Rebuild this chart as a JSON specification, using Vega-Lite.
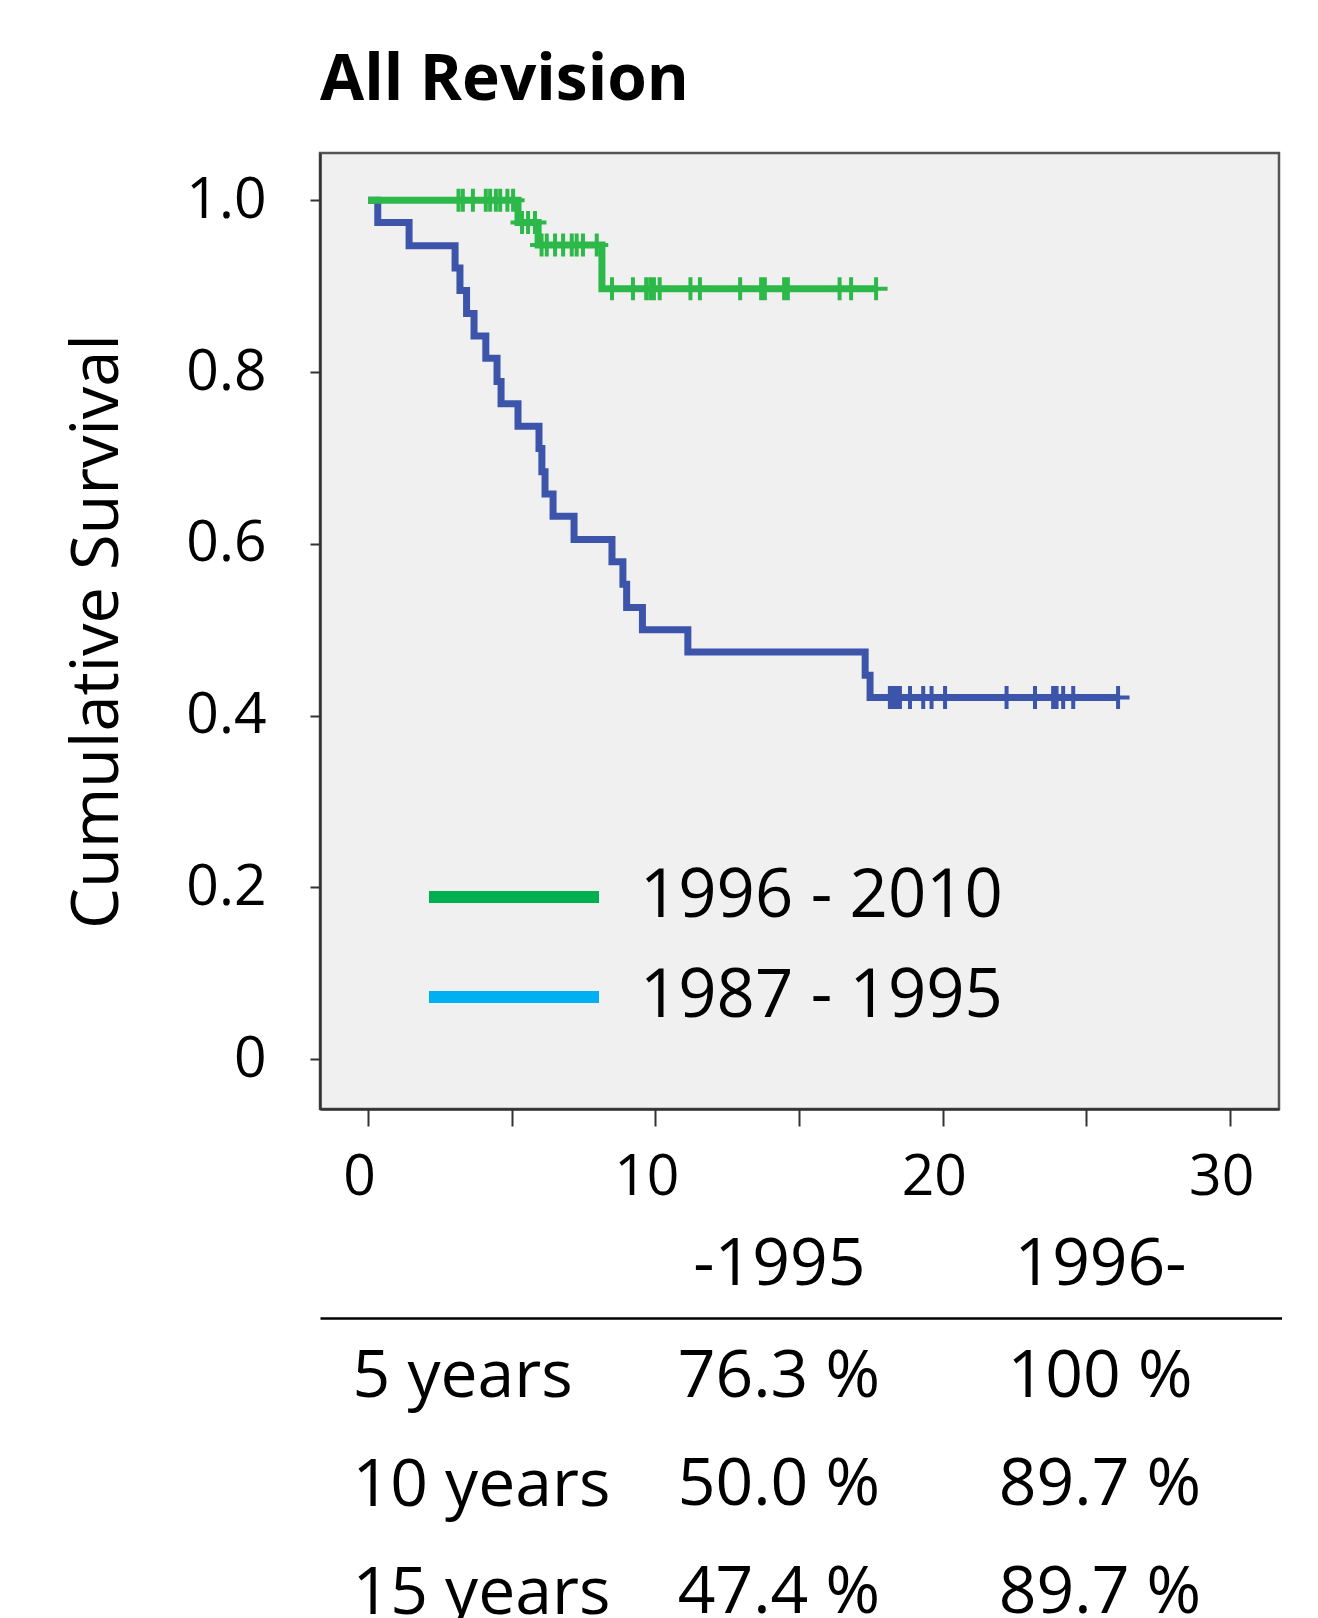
{
  "$schema": "https://vega.github.io/schema/vega-lite/v6.json",
  "background": "white",
  "padding": {"left": 64, "top": 47, "right": 0, "bottom": 0},
  "bounds": "flush",
  "spacing": 209,
  "config": {"font": "Open Sans", "view": {"stroke": null}},
  "datasets": {
    "km": [
      {"group": "1987 - 1995", "t": 0, "s": 1},
      {"group": "1987 - 1995", "t": 0.34, "s": 0.974},
      {"group": "1987 - 1995", "t": 1.43, "s": 0.947},
      {"group": "1987 - 1995", "t": 3.03, "s": 0.921},
      {"group": "1987 - 1995", "t": 3.2, "s": 0.895},
      {"group": "1987 - 1995", "t": 3.43, "s": 0.868},
      {"group": "1987 - 1995", "t": 3.69, "s": 0.842},
      {"group": "1987 - 1995", "t": 4.1, "s": 0.816},
      {"group": "1987 - 1995", "t": 4.49, "s": 0.789},
      {"group": "1987 - 1995", "t": 4.63, "s": 0.763},
      {"group": "1987 - 1995", "t": 5.22, "s": 0.737},
      {"group": "1987 - 1995", "t": 5.95, "s": 0.711},
      {"group": "1987 - 1995", "t": 6.05, "s": 0.684},
      {"group": "1987 - 1995", "t": 6.16, "s": 0.658},
      {"group": "1987 - 1995", "t": 6.44, "s": 0.632},
      {"group": "1987 - 1995", "t": 7.17, "s": 0.605},
      {"group": "1987 - 1995", "t": 8.49, "s": 0.579},
      {"group": "1987 - 1995", "t": 8.87, "s": 0.553},
      {"group": "1987 - 1995", "t": 9.0, "s": 0.526},
      {"group": "1987 - 1995", "t": 9.55, "s": 0.5},
      {"group": "1987 - 1995", "t": 11.13, "s": 0.474},
      {"group": "1987 - 1995", "t": 17.3, "s": 0.447},
      {"group": "1987 - 1995", "t": 17.47, "s": 0.421},
      {"group": "1987 - 1995", "t": 26.1, "s": 0.421},
      {"group": "1996 - 2010", "t": 0, "s": 1},
      {"group": "1996 - 2010", "t": 5.22, "s": 0.974},
      {"group": "1996 - 2010", "t": 5.92, "s": 0.948},
      {"group": "1996 - 2010", "t": 8.14, "s": 0.897},
      {"group": "1996 - 2010", "t": 17.68, "s": 0.897}
    ],
    "censor": [
      {"group": "1987 - 1995", "t": 18.16, "s": 0.421},
      {"group": "1987 - 1995", "t": 18.25, "s": 0.421},
      {"group": "1987 - 1995", "t": 18.33, "s": 0.421},
      {"group": "1987 - 1995", "t": 18.42, "s": 0.421},
      {"group": "1987 - 1995", "t": 18.51, "s": 0.421},
      {"group": "1987 - 1995", "t": 18.86, "s": 0.421},
      {"group": "1987 - 1995", "t": 19.32, "s": 0.421},
      {"group": "1987 - 1995", "t": 19.61, "s": 0.421},
      {"group": "1987 - 1995", "t": 20.08, "s": 0.421},
      {"group": "1987 - 1995", "t": 22.22, "s": 0.421},
      {"group": "1987 - 1995", "t": 23.21, "s": 0.421},
      {"group": "1987 - 1995", "t": 23.84, "s": 0.421},
      {"group": "1987 - 1995", "t": 23.96, "s": 0.421},
      {"group": "1987 - 1995", "t": 24.19, "s": 0.421},
      {"group": "1987 - 1995", "t": 24.54, "s": 0.421},
      {"group": "1987 - 1995", "t": 26.1, "s": 0.421},
      {"group": "1996 - 2010", "t": 3.15, "s": 1},
      {"group": "1996 - 2010", "t": 3.3, "s": 1},
      {"group": "1996 - 2010", "t": 3.65, "s": 1},
      {"group": "1996 - 2010", "t": 4.1, "s": 1},
      {"group": "1996 - 2010", "t": 4.25, "s": 1},
      {"group": "1996 - 2010", "t": 4.45, "s": 1},
      {"group": "1996 - 2010", "t": 4.6, "s": 1},
      {"group": "1996 - 2010", "t": 4.85, "s": 1},
      {"group": "1996 - 2010", "t": 5.05, "s": 1},
      {"group": "1996 - 2010", "t": 5.36, "s": 0.974},
      {"group": "1996 - 2010", "t": 5.57, "s": 0.974},
      {"group": "1996 - 2010", "t": 5.81, "s": 0.974},
      {"group": "1996 - 2010", "t": 6.04, "s": 0.948},
      {"group": "1996 - 2010", "t": 6.22, "s": 0.948},
      {"group": "1996 - 2010", "t": 6.51, "s": 0.948},
      {"group": "1996 - 2010", "t": 6.79, "s": 0.948},
      {"group": "1996 - 2010", "t": 7.09, "s": 0.948},
      {"group": "1996 - 2010", "t": 7.26, "s": 0.948},
      {"group": "1996 - 2010", "t": 7.48, "s": 0.948},
      {"group": "1996 - 2010", "t": 7.96, "s": 0.948},
      {"group": "1996 - 2010", "t": 8.49, "s": 0.897},
      {"group": "1996 - 2010", "t": 9.22, "s": 0.897},
      {"group": "1996 - 2010", "t": 9.68, "s": 0.897},
      {"group": "1996 - 2010", "t": 9.82, "s": 0.897},
      {"group": "1996 - 2010", "t": 9.95, "s": 0.897},
      {"group": "1996 - 2010", "t": 10.15, "s": 0.897},
      {"group": "1996 - 2010", "t": 11.22, "s": 0.897},
      {"group": "1996 - 2010", "t": 11.55, "s": 0.897},
      {"group": "1996 - 2010", "t": 12.95, "s": 0.897},
      {"group": "1996 - 2010", "t": 13.68, "s": 0.897},
      {"group": "1996 - 2010", "t": 13.81, "s": 0.897},
      {"group": "1996 - 2010", "t": 14.48, "s": 0.897},
      {"group": "1996 - 2010", "t": 14.61, "s": 0.897},
      {"group": "1996 - 2010", "t": 16.41, "s": 0.897},
      {"group": "1996 - 2010", "t": 16.81, "s": 0.897},
      {"group": "1996 - 2010", "t": 17.68, "s": 0.897}
    ],
    "table": [
      {"row": "5 years", "period": "-1995", "value": "76.3 %"},
      {"row": "5 years", "period": "1996-", "value": "100 %"},
      {"row": "10 years", "period": "-1995", "value": "50.0 %"},
      {"row": "10 years", "period": "1996-", "value": "89.7 %"},
      {"row": "15 years", "period": "-1995", "value": "47.4 %"},
      {"row": "15 years", "period": "1996-", "value": "89.7 %"}
    ]
  },
  "vconcat": [
    {
      "width": 959,
      "height": 956,
      "title": {"text": "All Revision", "anchor": "start", "frame": "group", "fontSize": 64, "fontWeight": "bold", "font": "Open Sans", "offset": 40, "color": "black"},
      "view": {"fill": "#f0f0f0", "stroke": "#555555", "strokeWidth": 2.5},
      "layer": [
        {
          "data": {"name": "km"},
          "mark": {"type": "line", "interpolate": "step-after", "strokeWidth": 2},
          "encoding": {
            "x": {"field": "t", "type": "quantitative", "scale": {"domain": [-1.67, 31.7], "nice": false, "zero": false},
              "axis": {"values": [0, 5, 10, 15, 20, 25, 30], "labelExpr": "datum.value % 10 == 0 ? datum.label : ''", "title": null, "grid": false, "tickSize": 17, "tickColor": "#333333", "tickWidth": 2, "domainColor": "#333333", "domainWidth": 2.5, "labelFontSize": 57, "labelPadding": 23, "labelColor": "black", "labelFont": "Open Sans", "labelOffset": -9, "labelFlush": false, "labelOverlap": false}},
            "y": {"field": "s", "type": "quantitative", "scale": {"domain": [-0.058, 1.055], "nice": false, "zero": false},
              "axis": {"values": [0, 0.2, 0.4, 0.6, 0.8, 1], "labelExpr": "datum.value == 0 ? '0' : format(datum.value, '.1f')", "title": "Cumulative Survival", "titleFontSize": 65, "titleFontWeight": "normal", "titleFont": "Open Sans", "titleColor": "black", "titlePadding": 54, "grid": false, "tickSize": 10, "tickColor": "#333333", "tickWidth": 2, "domainColor": "#333333", "domainWidth": 2.5, "labelFontSize": 57, "labelPadding": 44, "labelColor": "black", "labelFont": "Open Sans", "labelFlush": false, "labelOverlap": false}},
            "color": {"field": "group", "type": "nominal",
              "scale": {"domain": ["1996 - 2010", "1987 - 1995"], "range": ["#00b050", "#00b0f0"]},
              "legend": {"title": null, "orient": "none", "legendX": 103, "legendY": 712, "symbolType": "stroke", "symbolSize": 28900, "symbolStrokeWidth": 12, "labelFontSize": 67, "labelFont": "Open Sans", "labelColor": "black", "labelOffset": 35, "rowPadding": 33, "clipHeight": 64, "labelLimit": 0}}
          }
        },
        {
          "data": {"name": "km"},
          "transform": [{"filter": "datum.group == '1987 - 1995'"}],
          "mark": {"type": "line", "interpolate": "step-after", "strokeWidth": 7, "color": "#3c55aa"},
          "encoding": {
            "x": {"field": "t", "type": "quantitative"},
            "y": {"field": "s", "type": "quantitative"}
          }
        },
        {
          "data": {"name": "censor"},
          "transform": [{"filter": "datum.group == '1987 - 1995'"}],
          "mark": {"type": "point", "shape": "M0,-1V1M-1,0H1", "size": 529, "filled": false, "strokeWidth": 4, "opacity": 1, "color": "#3c55aa"},
          "encoding": {
            "x": {"field": "t", "type": "quantitative"},
            "y": {"field": "s", "type": "quantitative"}
          }
        },
        {
          "data": {"name": "km"},
          "transform": [{"filter": "datum.group == '1996 - 2010'"}],
          "mark": {"type": "line", "interpolate": "step-after", "strokeWidth": 7, "color": "#2db84a"},
          "encoding": {
            "x": {"field": "t", "type": "quantitative"},
            "y": {"field": "s", "type": "quantitative"}
          }
        },
        {
          "data": {"name": "censor"},
          "transform": [{"filter": "datum.group == '1996 - 2010'"}],
          "mark": {"type": "point", "shape": "M0,-1V1M-1,0H1", "size": 529, "filled": false, "strokeWidth": 4, "opacity": 1, "color": "#2db84a"},
          "encoding": {
            "x": {"field": "t", "type": "quantitative"},
            "y": {"field": "s", "type": "quantitative"}
          }
        }
      ]
    },
    {
      "width": 962,
      "height": 334,
      "data": {"name": "table"},
      "view": {"stroke": null},
      "mark": {"type": "text", "fontSize": 66, "font": "Open Sans", "color": "black"},
      "encoding": {
        "x": {"field": "period", "type": "nominal",
          "scale": {"type": "point", "domain": ["-1995", "1996-"], "padding": 0.998, "align": 0.716},
          "axis": {"orient": "top", "title": null, "ticks": false, "tickSize": 0, "labelFontSize": 66, "labelFont": "Open Sans", "labelPadding": 20, "domainColor": "black", "domainWidth": 2.5, "labelAngle": 0, "labelColor": "black", "labelLimit": 0}},
        "y": {"field": "row", "type": "nominal",
          "scale": {"type": "point", "domain": ["5 years", "10 years", "15 years"], "padding": 0.546},
          "axis": {"title": null, "ticks": false, "tickSize": 0, "domain": false, "labelAlign": "left", "labelPadding": -32, "labelFontSize": 66, "labelFont": "Open Sans", "labelColor": "black", "labelLimit": 0}},
        "text": {"field": "value"}
      }
    }
  ]
}
